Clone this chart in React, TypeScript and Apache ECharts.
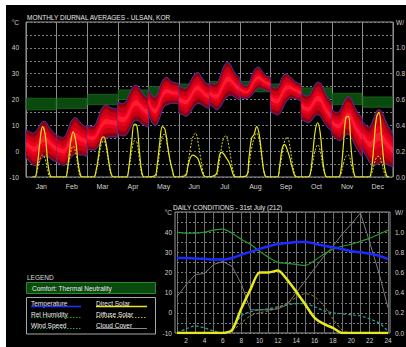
import React, { useEffect, useRef } from 'react';
import * as echarts from 'echarts';

// ---------- Monthly diurnal averages (top chart) ----------
const months = ['Jan', 'Feb', 'Mar', 'Apr', 'May', 'Jun', 'Jul', 'Aug', 'Sep', 'Oct', 'Nov', 'Dec'];
const bandHours = [0, 3, 6, 9, 12, 15, 18, 21, 24];
const tempHigh = [
  [8, 7.5, 7, 8.5, 11, 11.5, 9.5, 7.5, 6],
  [6, 5.5, 5.5, 8.5, 12, 13, 11.5, 10, 9],
  [10, 9.5, 10, 13.5, 17, 18, 17, 16.5, 16],
  [19, 18.5, 19, 22, 25, 25.5, 23.5, 21.5, 20.5],
  [24, 21.5, 21, 25, 28, 28.5, 27, 26.5, 26],
  [25, 24.5, 24.5, 27, 29.5, 30.5, 28.5, 26.5, 25.5],
  [26.5, 26, 26.5, 30, 33.5, 34.5, 32, 29.5, 28],
  [27, 25.5, 25.5, 29, 32, 32.5, 30.5, 29, 28.5],
  [25.5, 24.5, 25, 28.5, 30, 29, 27.5, 26.5, 25.5],
  [22.5, 21.5, 21.5, 24, 26.5, 26.5, 23.5, 20.5, 18.5],
  [16, 15, 15.5, 18.5, 21, 20.5, 17, 14.5, 12.5],
  [11.5, 10, 9.5, 13, 16, 15.5, 12, 9, 6.5],
];
const tempLow = [
  [-2.5, -4, -5.5, -5.5, -3, -2, -2.5, -3.5, -4],
  [-4, -5, -5.5, -4, -2, -1, -1.5, -1.5, -2],
  [1, 0.5, 0.5, 2, 4, 5, 5.5, 5.5, 5.5],
  [7, 6, 6, 8, 11, 12, 11, 10, 9.5],
  [15, 11, 10, 13, 17, 18, 18.5, 18.5, 18.5],
  [15, 14, 13.5, 15, 17.5, 18.5, 18, 17, 16.5],
  [18.5, 17, 16, 17.5, 20, 21.5, 21.5, 20.5, 20],
  [21, 20.5, 20.5, 21.5, 23.5, 24.5, 24, 23.5, 23],
  [15.5, 14.5, 14, 16, 19, 20.5, 20.5, 20, 19.5],
  [12.5, 11.5, 11, 12.5, 14, 13.5, 11, 9, 8],
  [6.5, 5, 4, 5, 6.5, 5.5, 2.5, 0, -2],
  [1, -2, -4.5, -5.5, -5, -4.5, -5, -5.5, -6],
];
const comfortLow = [16, 16.5, 18, 20, 21, 22, 23, 23, 22, 20.5, 18, 17];
const comfortHigh = [20.5, 20.5, 22, 23.7, 25, 26, 27, 27, 26, 24.5, 22.4, 21];
const solarHours = [5, 7, 9, 11, 13, 15, 17, 19, 21];
const directSolarMonthly = [
  [0, 0, 0.1, 0.28, 0.39, 0.33, 0.12, 0.01, 0],
  [0, 0, 0.1, 0.27, 0.35, 0.28, 0.1, 0.01, 0],
  [0, 0.05, 0.17, 0.29, 0.31, 0.25, 0.12, 0.02, 0],
  [0, 0, 0.1, 0.28, 0.41, 0.4, 0.2, 0.03, 0],
  [0.01, 0.1, 0.27, 0.39, 0.37, 0.25, 0.13, 0.05, 0],
  [0.01, 0.08, 0.15, 0.17, 0.16, 0.14, 0.08, 0.02, 0],
  [0.02, 0.12, 0.19, 0.18, 0.15, 0.12, 0.07, 0.01, 0],
  [0.01, 0.15, 0.3, 0.33, 0.39, 0.33, 0.17, 0.03, 0],
  [0, 0.08, 0.22, 0.25, 0.21, 0.15, 0.07, 0.01, 0],
  [0, 0.02, 0.18, 0.36, 0.42, 0.33, 0.12, 0.01, 0],
  [0, 0.04, 0.24, 0.46, 0.47, 0.24, 0.05, 0, 0],
  [0, 0.05, 0.25, 0.46, 0.5, 0.32, 0.1, 0.01, 0],
];
const diffuseSolarMonthly = [
  [0, 0, 0.06, 0.14, 0.17, 0.14, 0.05, 0, 0],
  [0, 0, 0.07, 0.19, 0.24, 0.19, 0.07, 0, 0],
  [0, 0.04, 0.14, 0.25, 0.28, 0.22, 0.1, 0.01, 0],
  [0, 0, 0.08, 0.2, 0.28, 0.27, 0.14, 0.02, 0],
  [0, 0.07, 0.2, 0.32, 0.33, 0.24, 0.13, 0.04, 0],
  [0.02, 0.1, 0.22, 0.31, 0.34, 0.27, 0.15, 0.04, 0],
  [0.01, 0.08, 0.2, 0.3, 0.32, 0.25, 0.13, 0.03, 0],
  [0.01, 0.09, 0.22, 0.3, 0.34, 0.29, 0.15, 0.03, 0],
  [0, 0.06, 0.18, 0.28, 0.31, 0.24, 0.11, 0.02, 0],
  [0, 0.02, 0.11, 0.21, 0.25, 0.2, 0.08, 0.01, 0],
  [0, 0.02, 0.1, 0.16, 0.17, 0.11, 0.03, 0, 0],
  [0, 0.02, 0.09, 0.15, 0.16, 0.11, 0.04, 0, 0],
];

// ---------- Daily conditions, 31st July (bottom chart) ----------
const dailyHours = [1, 2, 3, 4, 5, 6, 7, 8, 9, 10, 11, 12, 13, 14, 15, 16, 17, 18, 19, 20, 21, 22, 23, 24];
const dailyTemperature = [27.2, 27.2, 26.9, 26.8, 26.4, 26.4, 27.2, 28.8, 30.2, 31.7, 33, 34.1, 34.6, 35.1, 35.1, 34.3, 33.3, 32.5, 31.7, 30.5, 30, 29.3, 28.3, 26.7];
const dailyRelHumidity = [1.0, 0.99, 0.99, 1.0, 1.02, 1.03, 0.99, 0.93, 0.88, 0.81, 0.75, 0.7, 0.69, 0.68, 0.67, 0.72, 0.78, 0.83, 0.86, 0.88, 0.91, 0.94, 0.98, 1.02];
const dailyWindSpeed = [0.0, 0.04, 0.07, 0.05, 0.02, 0.0, 0.03, 0.17, 0.21, 0.23, 0.24, 0.26, 0.28, 0.29, 0.29, 0.26, 0.22, 0.2, 0.19, 0.18, 0.17, 0.14, 0.1, 0.02];
const dailyDirectSolar = [0, 0, 0, 0, 0, 0, 0.03, 0.24, 0.43, 0.6, 0.6, 0.62, 0.53, 0.41, 0.28, 0.15, 0.09, 0.05, 0.0, 0, 0, 0, 0, 0];
const dailyDiffuseSolar = [0, 0, 0, 0, 0, 0, 0.02, 0.1, 0.17, 0.2, 0.22, 0.25, 0.3, 0.35, 0.39, 0.36, 0.27, 0.14, 0.03, 0, 0, 0, 0, 0];
const dailyCloudCover = [0.36, 0.48, 0.58, 0.59, 0.68, 0.71, 0.66, 0.49, 0.23, 0.23, 0.23, 0.24, 0.28, 0.4, 0.52, 0.64, 0.76, 0.86, 0.98, 1.08, 1.19, 0.9, 0.6, 0.25];

const FONT = 'Liberation Sans, Arial, sans-serif';
const LABEL = '#d2d2d2';

const leftFmt = (v: number) => (Math.abs(v - 50) < 1e-6 ? '°C' : Math.round(v) % 10 === 0 ? String(Math.round(v)) : '');
// the right-hand labels sit against the picture's edge, as in the reference
const rightFmt = (v: number) => {
  const t = Math.round(v * 10);
  if (t === 12) return 'W/';
  return t % 2 === 0 ? (t / 10).toFixed(1) : '';
};

function buildOption() {
  const solarLine = (arr: number[][]) => {
    const d: number[][] = [];
    arr.forEach((vals, m) => vals.forEach((v, k) => d.push([m * 24 + solarHours[k], v])));
    return d;
  };

  const bandRender = (params: any, api: any) => {
    const i = api.value(0);
    const hi = tempHigh[i];
    const lo = tempLow[i];
    const x0 = api.coord([i * 24, 0])[0];
    const x1 = api.coord([(i + 1) * 24, 0])[0];
    const cons = [[x0, -10000], [x1, 10000]];
    const edge = (f: number) => bandHours.map((h, k) => api.coord([i * 24 + h, lo[k] + (hi[k] - lo[k]) * f]));
    const layer = (a: number, b: number) => edge(b).concat(edge(a).reverse());
    return {
      type: 'group',
      children: [
        { type: 'polygon', shape: { points: layer(0, 1), smooth: 0.35, smoothConstraint: cons }, style: { fill: '#8e0010', stroke: '#4a32a8', lineWidth: 1 } },
        { type: 'polygon', shape: { points: layer(0.14, 0.86), smooth: 0.35, smoothConstraint: cons }, style: { fill: '#c80014' } },
        { type: 'polygon', shape: { points: layer(0.3, 0.7), smooth: 0.35, smoothConstraint: cons }, style: { fill: '#ec001c' } },
        { type: 'polygon', shape: { points: layer(0.42, 0.58), smooth: 0.35, smoothConstraint: cons }, style: { fill: '#ff1a34' } },
      ],
    };
  };

  const comfortRender = (params: any, api: any) => {
    const i = api.value(0);
    const p0 = api.coord([i * 24, comfortHigh[i]]);
    const p1 = api.coord([(i + 1) * 24, comfortLow[i]]);
    return {
      type: 'rect',
      shape: { x: p0[0] + 0.5, y: p0[1], width: p1[0] - p0[0] - 1, height: p1[1] - p0[1] },
      style: { fill: '#0b4a0e', stroke: '#1c6a1f', lineWidth: 0.8 },
    };
  };

  const dashed = { color: '#7c7c7c', width: 1, type: [2, 2] as any };
  const axisLabelBase = { color: LABEL, fontSize: 6.5, fontFamily: FONT };

  const txt = (x: number, y: number, text: string, fill = '#e6e6e6', size = 6.5) => ({
    type: 'text', x, y, silent: true,
    style: { text, fill, fontSize: size, fontFamily: FONT, textVerticalAlign: 'middle' },
  });
  const seg = (x1: number, y1: number, x2: number, y2: number, stroke: string, lw: number, dash?: number[]) => ({
    type: 'line', silent: true,
    shape: { x1, y1, x2, y2 },
    style: { stroke, lineWidth: lw, lineDash: dash || null },
  });

  return {
    animation: false,
    backgroundColor: '#000',
    textStyle: { fontFamily: FONT },
    grid: [
      { left: 26, top: 22, width: 367, height: 155, show: true, borderColor: '#9a9a9a', borderWidth: 1, backgroundColor: 'transparent', containLabel: false, outerBoundsMode: 'none' },
      { left: 177, top: 212, width: 211, height: 121, show: false, containLabel: false, outerBoundsMode: 'none' },
    ],
    xAxis: [
      { type: 'value', gridIndex: 0, min: 0, max: 288, interval: 24, axisLabel: { show: false }, axisTick: { show: false }, axisLine: { show: false }, splitLine: { show: true, lineStyle: { color: '#8c8c8c', width: 1 } } },
      { type: 'category', gridIndex: 0, data: months, position: 'bottom', axisLine: { show: false }, axisTick: { show: false }, splitLine: { show: false }, axisLabel: { ...axisLabelBase, fontSize: 7, margin: 6 } },
      { type: 'value', gridIndex: 1, min: 1, max: 24, interval: 1, axisLine: { show: false }, axisTick: { show: false }, splitLine: { show: true, lineStyle: { color: '#6e6e6e', width: 1 } }, axisLabel: { ...axisLabelBase, margin: 4, formatter: (v: number) => (v % 2 === 0 ? String(v) : '') } },
    ],
    yAxis: [
      { type: 'value', gridIndex: 0, min: -10, max: 50, interval: 5, axisLine: { show: false }, axisTick: { show: false }, splitLine: { show: true, lineStyle: dashed }, axisLabel: { ...axisLabelBase, margin: 7, formatter: leftFmt } },
      { type: 'value', gridIndex: 0, min: 0, max: 1.2, interval: 0.1, position: 'right', axisLine: { show: false }, axisTick: { show: false }, splitLine: { show: false }, axisLabel: { ...axisLabelBase, margin: 3, formatter: rightFmt } },
      { type: 'value', gridIndex: 1, min: -10, max: 50, interval: 5, axisLine: { show: false }, axisTick: { show: false }, splitLine: { show: true, lineStyle: dashed }, axisLabel: { ...axisLabelBase, margin: 5, formatter: leftFmt } },
      { type: 'value', gridIndex: 1, min: 0, max: 1.2, interval: 0.1, position: 'right', axisLine: { show: false }, axisTick: { show: false }, splitLine: { show: false }, axisLabel: { ...axisLabelBase, margin: 7, formatter: rightFmt } },
    ],
    series: [
      { type: 'custom', name: 'Comfort', xAxisIndex: 0, yAxisIndex: 0, data: months.map((_, i) => [i]), renderItem: comfortRender, z: 1, silent: true },
      { type: 'custom', name: 'Temperature band', xAxisIndex: 0, yAxisIndex: 0, data: months.map((_, i) => [i]), renderItem: bandRender, z: 2, silent: true },
      { type: 'line', name: 'Diffuse Solar', xAxisIndex: 0, yAxisIndex: 1, data: solarLine(diffuseSolarMonthly), showSymbol: false, smooth: 0.4, z: 3, lineStyle: { color: '#d8d820', width: 1, type: [2, 1.5] } },
      { type: 'line', name: 'Direct Solar', xAxisIndex: 0, yAxisIndex: 1, data: solarLine(directSolarMonthly), showSymbol: false, smooth: 0.4, z: 4, lineStyle: { color: '#e6e622', width: 1.2 } },

      { type: 'line', name: 'Cloud Cover', xAxisIndex: 2, yAxisIndex: 3, data: dailyHours.map((h, i) => [h, dailyCloudCover[i]]), showSymbol: false, lineStyle: { color: '#7a7a7a', width: 1 }, z: 3 },
      { type: 'line', name: 'Rel Humidity', xAxisIndex: 2, yAxisIndex: 3, data: dailyHours.map((h, i) => [h, dailyRelHumidity[i]]), showSymbol: false, smooth: 0.3, lineStyle: { color: '#2a9a2e', width: 1.2 }, z: 4 },
      { type: 'line', name: 'Wind Speed', xAxisIndex: 2, yAxisIndex: 3, data: dailyHours.map((h, i) => [h, dailyWindSpeed[i]]), showSymbol: false, smooth: 0.3, lineStyle: { color: '#2a9c9c', width: 1.2, type: [3, 2] }, z: 4 },
      { type: 'line', name: 'Diffuse Solar (day)', xAxisIndex: 2, yAxisIndex: 3, data: dailyHours.map((h, i) => [h, dailyDiffuseSolar[i]]), showSymbol: false, smooth: 0.3, lineStyle: { color: '#9a7a22', width: 1, type: [3, 2] }, z: 4 },
      { type: 'line', name: 'Temperature', xAxisIndex: 2, yAxisIndex: 2, data: dailyHours.map((h, i) => [h, dailyTemperature[i]]), showSymbol: false, smooth: 0.3, lineStyle: { color: '#1c2cff', width: 2.5 }, z: 5 },
      { type: 'line', name: 'Direct Solar (day)', xAxisIndex: 2, yAxisIndex: 3, data: dailyHours.map((h, i) => [h, dailyDirectSolar[i]]), showSymbol: false, smooth: 0.25, lineStyle: { color: '#e8e81a', width: 2.5 }, z: 6 },
    ],
    graphic: [
      { type: 'rect', silent: true, shape: { x: 0, y: 0, width: 6, height: 347 }, style: { fill: '#fff' } },
      { type: 'rect', silent: true, shape: { x: 0, y: 0, width: 406, height: 5 }, style: { fill: '#fff' } },
      txt(27, 17.5, 'MONTHLY DIURNAL AVERAGES - ULSAN, KOR', '#e8e8e8', 6.5),
      txt(173, 207, 'DAILY CONDITIONS - 31st July (212)', '#e8e8e8', 6.5),
      { type: 'rect', silent: true, shape: { x: 175, y: 212, width: 215, height: 121 }, style: { fill: null, stroke: '#9a9a9a', lineWidth: 1 } },
      txt(27, 277, 'LEGEND', '#dcdcdc', 6.5),
      { type: 'rect', silent: true, shape: { x: 26.5, y: 282.5, width: 129, height: 11 }, style: { fill: '#0b4a0e', stroke: '#2a8a2e', lineWidth: 1 } },
      txt(32, 288, 'Comfort: Thermal Neutrality', '#e8e8e8', 6.5),
      { type: 'rect', silent: true, shape: { x: 26.5, y: 297.5, width: 129, height: 36.5 }, style: { fill: null, stroke: '#a8a8a8', lineWidth: 1 } },
      txt(31, 303, 'Temperature', '#e8e8e8', 6.5),
      seg(31, 306.5, 81, 306.5, '#2030ff', 1.5),
      txt(31, 314, 'Rel Humidity', '#e8e8e8', 6.5),
      seg(31, 317.5, 81, 317.5, '#2a9a2e', 1, [1.5, 1.5]),
      txt(31, 325, 'Wind Speed', '#f4f4f4', 6.5),
      seg(31, 328.5, 81, 328.5, '#3aa06a', 1, [1.5, 1.5]),
      txt(96, 303, 'Direct Solar', '#e8e8e8', 6.5),
      seg(96, 306.5, 147, 306.5, '#e8e81a', 1.5),
      txt(96, 314, 'Diffuse Solar', '#f0f0f0', 6.5),
      seg(96, 317.5, 147, 317.5, '#c8a820', 1, [1.5, 1.5]),
      txt(96, 325, 'Cloud Cover', '#f0f0f0', 6.5),
      seg(96, 328.5, 147, 328.5, '#8a8a8a', 1),
    ],
  };
}

export default function App() {
  const ref = useRef<HTMLDivElement>(null);
  useEffect(() => {
    if (!ref.current) return;
    const chart = echarts.init(ref.current, null, { renderer: 'svg' });
    chart.setOption(buildOption() as any);
    return () => chart.dispose();
  }, []);
  return (
    <div style={{ position: 'fixed', left: 0, top: 0, width: 406, height: 347, background: '#fff' }}>
      <div ref={ref} style={{ width: 406, height: 347 }} />
    </div>
  );
}
